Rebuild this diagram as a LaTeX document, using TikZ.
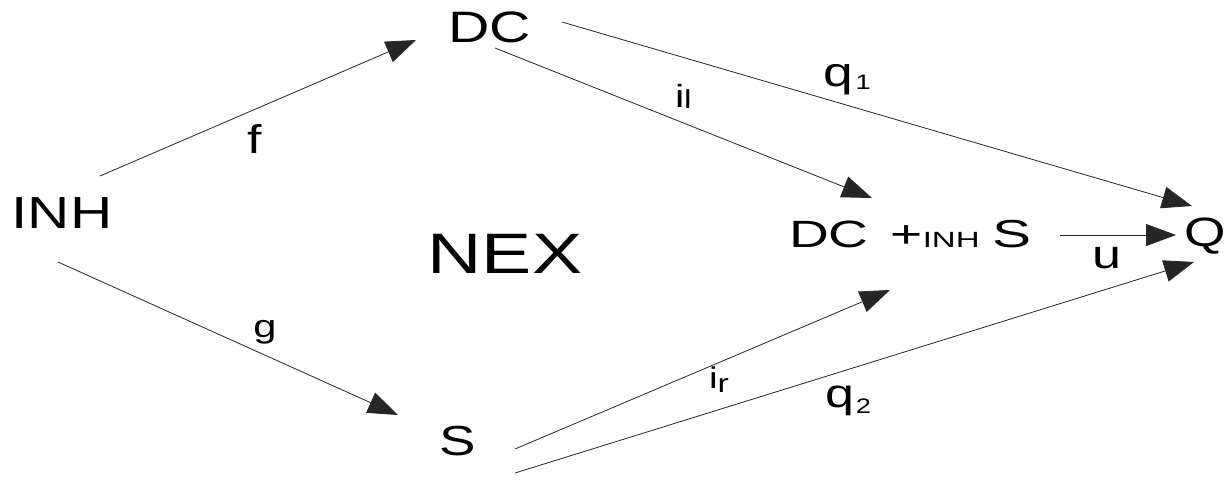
\documentclass[tikz,border=0pt]{standalone}
\usepackage{fontspec}
\setmainfont{Liberation Sans}
\usetikzlibrary{arrows.meta,calc}
\newcommand\fsz[1]{\fontsize{#1pt}{#1pt}\selectfont}
\newcommand\sx[2]{\scalebox{#1}[1]{#2}}
\begin{document}
\begin{tikzpicture}[x=1pt,y=-1pt,
  every node/.style={inner sep=0pt, outer sep=0pt, text=black},
  arr/.style={line width=0.8pt, draw=black!85, -{Triangle[length=30pt,width=22pt]}}]
\useasboundingbox (0,0) rectangle (1227,480);
% objects
\node[anchor=base] (inh) at (62,228) {\sx{1.3}{\fsz{45}INH}};
\node[anchor=base] (dc) at (490,42) {\sx{1.3}{\fsz{44}DC}};
\node[anchor=base] (s) at (458,455) {\sx{1.3}{\fsz{42}S}};
\node[anchor=base] (nex) at (505,273) {\sx{1.32}{\fsz{57}NEX}};
\node[anchor=base west] (sum) at (789,247) {\sx{1.45}{\fsz{38}DC}\hspace{22pt}\sx{1.45}{\fsz{38}+}\sx{1.5}{\fsz{22}INH}\hspace{13pt}\sx{1.5}{\fsz{39}S}};
\node[anchor=base] (q) at (1205,246) {\sx{1.3}{\fsz{41}Q}};
% labels
\node[anchor=base] (f) at (255,153) {\sx{1.3}{\fsz{40}f}};
\node[anchor=base] (g) at (265,337) {\sx{1.3}{\fsz{32}g}};
\node[anchor=base] (u) at (1107,268) {\sx{1.3}{\fsz{40}u}};
\node[anchor=base west] (q1) at (823,86) {\sx{1.3}{\fsz{41}q}\hspace{3pt}\sx{1.3}{\fsz{21}\raisebox{-3pt}{1}}};
\node[anchor=base west] (q2) at (825,407) {\sx{1.3}{\fsz{40}q}\hspace{2pt}\sx{1.3}{\fsz{21}\raisebox{-6pt}{2}}};
\node[anchor=base west] (il) at (675,107) {\sx{1.3}{\fsz{32}i}\sx{1.3}{\fsz{26}\raisebox{-1pt}{l}}};
\node[anchor=base west] (ir) at (709,388) {\sx{1.3}{\fsz{30}i}\sx{1.3}{\fsz{26}\raisebox{-4pt}{r}}};
% arrows
\draw[arr] ($(inh.base)+(38,-52)$) -- ($(dc.base)+(-74,-2)$);
\draw[arr] ($(inh.base)+(-4,34)$) -- ($(s.base)+(-60,-40)$);
\draw[arr] ($(dc.base)+(5,6)$) -- ($(sum.base west)+(83,-49)$);
\draw[arr] ($(dc.base)+(72,-20)$) -- ($(q.base)+(-13,-40)$);
\draw[arr] ($(s.base)+(57,-6)$) -- ($(sum.base west)+(101,43)$);
\draw[arr] ($(s.base)+(57,18)$) -- ($(q.base)+(-11,16)$);
\draw[arr] ($(sum.base west)+(271,-12)$) -- ($(q.base)+(-29,-11)$);
\end{tikzpicture}
\end{document}
